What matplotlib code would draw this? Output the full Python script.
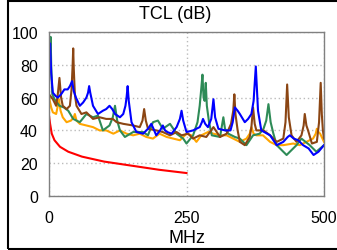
import numpy as np
import matplotlib
matplotlib.use("Agg")
import matplotlib.pyplot as plt
from matplotlib.patches import Rectangle

plt.rcParams['font.family'] = ['Liberation Sans', 'DejaVu Sans']

# red (limit line)
red_x = [0, 2, 5, 10, 20, 35, 60, 100, 150, 200, 250]
red_y = [49, 44, 38, 34, 30, 27, 24, 21, 18.5, 16, 14]

# orange
org_x = [0, 4, 7, 13, 16, 18, 21, 25, 32, 40, 45, 47, 50, 56, 68, 80, 92, 104,
         117, 129, 141, 153, 165, 177, 189, 201, 214, 226, 238, 250, 259, 268,
         277, 289, 299, 311, 323, 335, 347, 359, 365, 368, 372, 377, 389, 402,
         414, 426, 444, 456, 468, 480, 485, 487, 490, 493, 500]
org_y = [60, 54, 51, 50, 55, 59, 52, 48, 45, 46, 48, 50, 46, 44, 43, 42, 40,
         40, 38, 40, 38, 37, 38, 36, 35, 38, 36, 35, 34, 38, 37, 33, 37, 39,
         38, 37, 37, 35, 33, 35, 38, 42, 38, 37, 37, 33, 31, 31, 32, 31, 33,
         35, 38, 41, 39, 38, 33]

# green
grn_x = [0, 2, 3, 4, 6, 10, 19, 27, 35, 44, 56, 68, 80, 89, 98, 110, 116, 120,
         124, 129, 138, 153, 171, 180, 189, 198, 207, 220, 232, 244, 250, 262,
         270, 274, 277, 279, 281, 283, 285, 287, 291, 296, 311, 314, 317, 320,
         326, 338, 347, 359, 371, 383, 390, 395, 399, 403, 408, 414, 432, 450,
         459, 474, 486, 500]
grn_y = [70, 85, 97, 80, 62, 59, 55, 54, 52, 47, 45, 50, 48, 49, 40, 43, 48,
         55, 46, 40, 36, 39, 39, 37, 45, 46, 41, 44, 38, 35, 32, 37, 45, 55,
         66, 74, 60, 58, 69, 55, 45, 37, 36, 42, 48, 41, 38, 36, 35, 31, 37,
         38, 41, 46, 56, 45, 38, 31, 25, 31, 35, 31, 27, 31]

# brown
brn_x = [0, 7, 13, 16, 19, 22, 25, 32, 38, 41, 43, 44, 45, 47, 50, 59, 68, 80,
         92, 104, 116, 123, 135, 153, 165, 170, 173, 176, 180, 195, 207, 220,
         232, 241, 253, 262, 274, 286, 299, 311, 323, 331, 335, 337, 339, 343,
         347, 356, 365, 368, 371, 374, 377, 390, 402, 414, 426, 430, 433, 436,
         441, 450, 459, 463, 465, 468, 471, 478, 487, 491, 494, 496, 498, 500]
brn_y = [62, 59, 55, 62, 72, 60, 55, 53, 55, 65, 80, 90, 78, 62, 55, 50, 51,
         47, 48, 47, 47, 45, 44, 43, 42, 46, 53, 46, 41, 40, 39, 37, 39, 37,
         38, 35, 37, 36, 42, 36, 38, 44, 52, 62, 50, 40, 33, 31, 36, 42, 54,
         44, 40, 40, 37, 33, 35, 45, 68, 48, 37, 33, 37, 43, 50, 43, 40, 32,
         33, 45, 69, 50, 40, 35]

# blue
blu_x = [0, 2, 4, 7, 12, 16, 22, 28, 34, 38, 42, 45, 49, 56, 62, 68, 71, 73,
         75, 80, 89, 98, 104, 110, 115, 120, 129, 135, 139, 141, 143, 145, 150,
         159, 171, 180, 186, 190, 195, 202, 207, 211, 215, 223, 232, 238, 241,
         244, 250, 262, 274, 278, 280, 284, 289, 295, 299, 302, 308, 320, 330,
         334, 338, 343, 347, 356, 362, 368, 372, 376, 380, 386, 402, 414, 426,
         434, 438, 445, 453, 462, 472, 481, 490, 500]
blu_y = [75, 93, 75, 63, 61, 60, 62, 65, 65, 67, 70, 64, 60, 55, 57, 60, 63,
         67, 63, 55, 50, 52, 53, 55, 53, 50, 48, 50, 55, 60, 67, 58, 45, 39,
         38, 41, 44, 41, 37, 40, 43, 40, 39, 38, 42, 47, 52, 46, 39, 40, 42,
         45, 47, 44, 42, 47, 59, 48, 41, 40, 40, 45, 54, 52, 50, 45, 47, 50,
         58, 79, 52, 40, 37, 31, 33, 36, 37, 35, 34, 31, 29, 25, 27, 31]

xticks = [0, 250, 500]
yticks = [0, 20, 40, 60, 80, 100]

fig = plt.figure(figsize=(3.37, 2.51), dpi=100)
ax = fig.add_axes([49/337, 1 - 197/251, 275/337, 164/251])

ax.plot(red_x, red_y, color='#ff0000', lw=1.5)
ax.plot(org_x, org_y, color='#ffa500', lw=1.5)
ax.plot(grn_x, grn_y, color='#2e8b57', lw=1.5)
ax.plot(brn_x, brn_y, color='#8b4513', lw=1.5)
ax.plot(blu_x, blu_y, color='#0000ff', lw=1.5)

ax.set_xlim(0, 500)
ax.set_ylim(0, 100)
ax.set_xticks(xticks)
ax.set_yticks(yticks)
ax.tick_params(length=0, labelsize=11.5)
ax.tick_params(axis='y', pad=8)
ax.tick_params(axis='x', pad=10)
ax.grid(True, color='#bbbbbb', linestyle=(0, (1, 2)), lw=1)
for s in ax.spines.values():
    s.set_color('#808080')
    s.set_linewidth(1)
ax.set_xlabel('MHz', fontsize=13, labelpad=3)
fig.text(175/337, 1 - 15/251, 'TCL (dB)', fontsize=13, ha='center', va='center')

fig.patches.append(Rectangle((8/337, 1/251), 1.0, 248/251, transform=fig.transFigure,
                             fill=False, edgecolor='black', lw=1.5, clip_on=False))

fig.savefig('out.png', dpi=100)
